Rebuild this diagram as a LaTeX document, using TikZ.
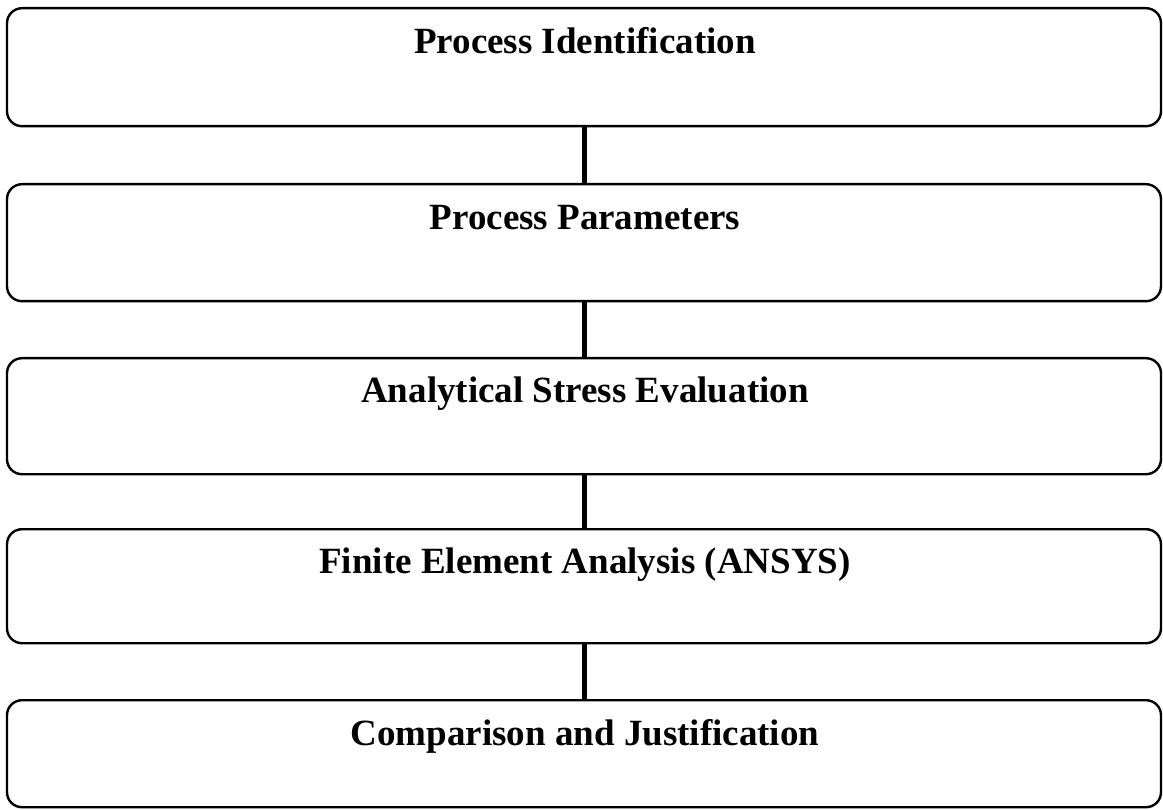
\documentclass[tikz,border=0pt]{standalone}
\usepackage{fontspec}
\setmainfont{Liberation Serif}
\begin{document}
\begin{tikzpicture}[x=1pt,y=-1pt,
  stagebox/.style={draw=black,line width=2.4pt,rounded corners=15pt,minimum width=1154pt,inner sep=0pt,anchor=north},
  stagetext/.style={font=\fontsize{37}{40}\selectfont\bfseries,anchor=base},
  link/.style={line width=5pt}]
\useasboundingbox (0,0) rectangle (1163,810);
\node[stagebox,minimum height=118pt] (b1) at (584,7) {};
\node[stagebox,minimum height=117pt] (b2) at (584,183) {};
\node[stagebox,minimum height=116pt] (b3) at (584,357) {};
\node[stagebox,minimum height=114pt] (b4) at (584,528) {};
\node[stagebox,minimum height=107pt] (b5) at (584,699) {};
\node[stagetext] (t1) at (585,54) {Process Identification};
\node[stagetext] (t2) at (585,230) {Process Parameters};
\node[stagetext] (t3) at (585,403) {Analytical Stress Evaluation};
\node[stagetext] (t4) at (585,573) {Finite Element Analysis (ANSYS)};
\node[stagetext] (t5) at (585,745) {Comparison and Justification};
\draw[link] (b1.south) -- (b2.north);
\draw[link] (b2.south) -- (b3.north);
\draw[link] (b3.south) -- (b4.north);
\draw[link] (b4.south) -- (b5.north);
\end{tikzpicture}
\end{document}
